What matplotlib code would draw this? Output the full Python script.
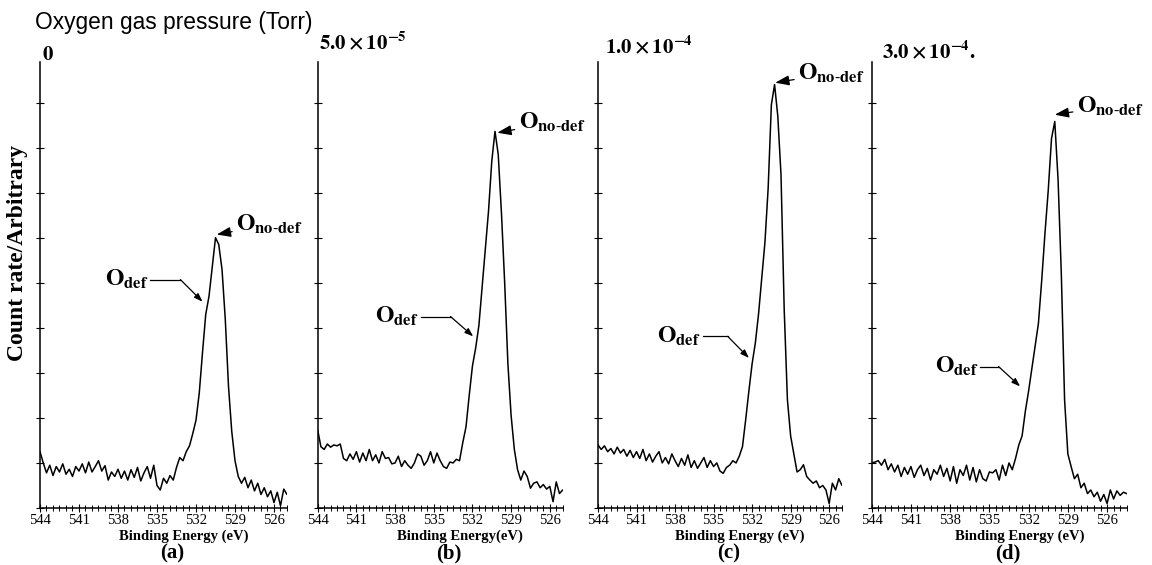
import numpy as np
import matplotlib
matplotlib.use("Agg")
import matplotlib.pyplot as plt
from matplotlib.ticker import MultipleLocator, FixedLocator

plt.rcParams['font.family'] = 'Liberation Serif'
plt.rcParams['mathtext.fontset'] = 'stix'

# binding energy grid of the scans (eV), 544 -> 524.5 in 0.25 eV steps
energy = np.arange(544.0, 524.4, -0.25)

# count rate, arbitrary units (one unit = one y tick)
counts_a = [1.25, 1.00, 0.78, 0.95, 0.72, 0.92, 0.80, 0.98, 0.75, 0.86,
            0.70, 0.92, 0.82, 0.98, 0.78, 1.02, 0.80, 0.92, 1.05, 0.82,
            0.94, 0.62, 0.80, 0.70, 0.86, 0.66, 0.82, 0.62, 0.85, 0.68,
            0.90, 0.60, 0.78, 0.92, 0.66, 0.95, 0.50, 0.40, 0.66, 0.55,
            0.72, 0.62, 0.90, 1.12, 1.05, 1.25, 1.38, 1.65, 1.95, 2.55,
            3.45, 4.30, 4.70, 5.35, 6.00, 5.85, 5.30, 4.20, 2.70, 1.70,
            1.05, 0.70, 0.55, 0.68, 0.45, 0.62, 0.38, 0.55, 0.30, 0.45,
            0.25, 0.38, 0.12, 0.35, 0.05, 0.42, 0.30, 0.30, 0.30]
counts_b = [1.73, 1.36, 1.30, 1.42, 1.35, 1.40, 1.38, 1.42, 1.10, 1.05,
            1.20, 1.08, 1.25, 1.02, 1.22, 1.05, 1.30, 1.05, 1.18, 1.00,
            1.25, 1.10, 1.12, 0.98, 1.00, 1.15, 0.92, 1.05, 0.95, 0.88,
            1.00, 1.20, 1.15, 0.95, 1.05, 1.25, 1.00, 1.22, 1.05, 0.92,
            0.88, 1.02, 1.00, 1.08, 1.05, 1.45, 1.80, 2.50, 3.15, 3.55,
            4.05, 4.90, 5.75, 6.60, 7.70, 8.36, 7.85, 6.55, 5.00, 3.20,
            2.05, 1.30, 0.85, 0.62, 0.82, 0.70, 0.44, 0.55, 0.58, 0.45,
            0.52, 0.42, 0.48, 0.14, 0.58, 0.32, 0.40, 0.40, 0.40]
counts_c = [1.40, 1.30, 1.38, 1.25, 1.32, 1.20, 1.35, 1.22, 1.30, 1.15,
            1.28, 1.12, 1.25, 1.10, 1.30, 1.05, 1.20, 1.02, 1.15, 1.25,
            1.00, 1.12, 0.98, 1.20, 1.05, 0.92, 1.10, 0.95, 1.18, 0.90,
            1.05, 0.88, 1.00, 1.12, 0.90, 1.05, 0.92, 1.00, 0.82, 0.77,
            0.90, 0.95, 1.05, 1.00, 1.15, 1.36, 1.96, 2.60, 3.20, 3.66,
            4.30, 5.10, 5.90, 7.10, 8.95, 9.40, 8.70, 7.40, 4.40, 2.40,
            1.60, 1.20, 0.80, 0.85, 0.96, 0.70, 0.62, 0.55, 0.60, 0.45,
            0.50, 0.40, 0.10, 0.55, 0.40, 0.65, 0.50, 0.50, 0.50]
counts_d = [1.00, 1.02, 1.05, 0.95, 1.08, 0.85, 0.98, 0.80, 0.95, 0.70,
            0.90, 0.75, 0.92, 0.68, 0.85, 0.95, 0.72, 0.88, 0.62, 0.85,
            0.75, 0.95, 0.70, 0.88, 0.60, 0.92, 0.55, 0.85, 0.72, 0.95,
            0.62, 0.90, 0.58, 0.85, 0.65, 0.60, 0.80, 0.78, 0.85, 0.62,
            0.95, 0.72, 1.00, 0.85, 1.10, 1.40, 1.60, 2.15, 2.60, 3.10,
            3.60, 4.10, 5.05, 6.10, 7.05, 8.20, 8.58, 7.30, 5.20, 2.40,
            1.20, 0.92, 0.65, 0.75, 0.45, 0.55, 0.32, 0.40, 0.25, 0.35,
            0.15, 0.30, 0.10, 0.40, 0.20, 0.38, 0.28, 0.35, 0.32]

pressures = [r'$\mathbf{0}$', r'$\mathbf{5.0\times10^{-5}}$',
             r'$\mathbf{1.0\times10^{-4}}$', r'$\mathbf{3.0\times10^{-4}.}$']
panel_tags = ['(a)', '(b)', '(c)', '(d)']
xlabels = ['Binding Energy (eV)', 'Binding Energy(eV)',
           'Binding Energy (eV)', 'Binding Energy (eV)']
xticks = [544, 541, 538, 535, 532, 529, 526]

# annotation anchors (eV, counts): O_def text/line start, corner, arrow tip
odef_start = [(535.5, 5.07), (536.0, 4.25), (535.85, 3.81), (535.7, 3.14)]
odef_corner = [(533.2, 5.07), (533.7, 4.25), (533.9, 3.81), (534.3, 3.14)]
odef_tip = [(531.5, 4.58), (531.94, 3.81), (532.25, 3.33), (532.65, 2.70)]
onodef_text = [(528.9, 6.29), (528.4, 8.55), (528.4, 9.65), (528.3, 8.92)]
onodef_tip = [(530.4, 6.07), (530.07, 8.33), (530.2, 9.44), (530.0, 8.73)]

W, H = 1152, 565
lefts = [40, 317.7, 598, 871.7]
widths = [247, 245, 244, 255]
xright = [525, 525, 525, 524.5]
bottom, height = 508, 446
# pressure label placement (pixels): offset from axis, baseline row
plab_dx = [2, 1, 7, 10]
plab_base = [60, 49, 53, 58]

fig = plt.figure(figsize=(W / 100, H / 100), dpi=100)

series = [counts_a, counts_b, counts_c, counts_d]
for k in range(4):
    ax = fig.add_axes([lefts[k] / W, (H - bottom) / H, widths[k] / W, height / H])
    ax.plot(energy, series[k], color='black', lw=1.1)
    ax.set_xlim(544, xright[k])
    ax.set_ylim(0, 9.9)
    for s in ['top', 'right']:
        ax.spines[s].set_visible(False)
    for s in ['left', 'bottom']:
        ax.spines[s].set_linewidth(1.1)
    ax.xaxis.set_major_locator(FixedLocator(xticks))
    ax.xaxis.set_minor_locator(MultipleLocator(0.5))
    ax.yaxis.set_major_locator(MultipleLocator(1))
    ax.tick_params(axis='both', which='major', direction='inout', length=6,
                   width=0.8, labelsize=10.5, pad=1)
    ax.tick_params(axis='x', which='minor', direction='inout', length=4, width=0.7)
    ax.tick_params(axis='y', labelleft=False)
    ax.set_xticklabels([str(t) for t in xticks])

    # pressure label above the axis
    fig.text((lefts[k] + plab_dx[k]) / W, 1 - plab_base[k] / H, pressures[k],
             fontsize=15, ha='left', va='baseline')

    # O_def label with a bent arrow
    (x0, y0), (x1, y1), (x2, y2) = odef_start[k], odef_corner[k], odef_tip[k]
    ax.plot([x0, x1], [y0, y1], color='black', lw=0.9)
    ax.annotate('', xy=(x2, y2), xytext=(x1, y1),
                arrowprops=dict(arrowstyle='-|>,head_length=0.5,head_width=0.18',
                                color='black', lw=0.9, shrinkA=0, shrinkB=0))
    ax.text(x0 + 0.15, y0, r'$\mathbf{O}_{\mathbf{def}}$', fontsize=17,
            ha='right', va='center')

    # O_no-def label with a short arrow
    tx, ty = onodef_text[k]
    ax.annotate(r'$\mathbf{O}_{\mathbf{no\text{-}def}}$', xy=onodef_tip[k],
                xytext=(tx, ty), fontsize=17, ha='left', va='center',
                arrowprops=dict(arrowstyle='-|>,head_length=0.5,head_width=0.18',
                                color='black', lw=0.9, shrinkA=1, shrinkB=0))

    xc = (lefts[k] + 0.58 * widths[k]) / W
    fig.text(xc, 1 - 536 / H, xlabels[k], fontsize=10.5, fontweight='bold',
             ha='center', va='center')
    fig.text((lefts[k] + 0.535 * widths[k]) / W, 1 - 553 / H, panel_tags[k],
             fontsize=15, fontweight='bold', ha='center', va='center')

fig.text(35 / W, 1 - 29 / H, 'Oxygen gas pressure (Torr)', family='Liberation Sans',
         fontsize=16.4, ha='left', va='baseline')
fig.text(18 / W, 1 - 253 / H, 'Count rate/Arbitrary', fontsize=17,
         fontweight='bold', rotation=90, ha='center', va='center')

fig.savefig('out.png', dpi=100)
